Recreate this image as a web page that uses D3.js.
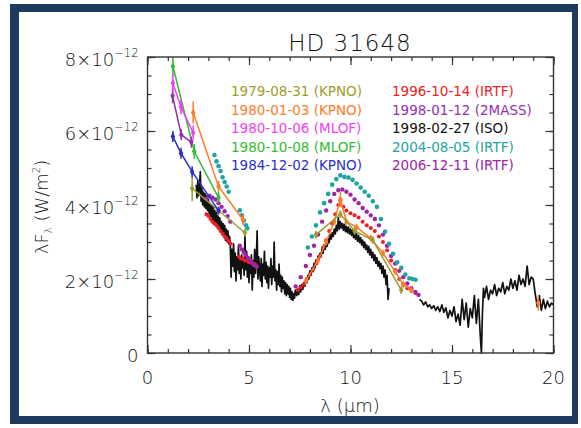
<!DOCTYPE html>
<html>
<head>
<meta charset="utf-8">
<script src="https://d3js.org/d3.v7.min.js"></script>
<style>
    body { margin: 0; background: #fff; }
    svg text { font-family: "DejaVu Sans", sans-serif; font-weight: 200; fill: #111; }
    svg text.leg { font-weight: normal; }
</style>
</head>
<body>
<div id="content"></div>
<script>
// legend
var legendDates = ['1979-08-31', '1980-01-03', '1980-10-06', '1980-10-08', '1984-12-02',
    '1996-10-14', '1998-01-12', '1998-02-27', '2004-08-05', '2006-12-11'];
var legendSites = ['(KPNO)', '(KPNO)', '(MLOF)', '(MLOF)', '(KPNO)',
    '(IRTF)', '(2MASS)', '(ISO)', '(IRTF)', '(IRTF)'];
var legendColors = ['#9d9d2e', '#ff7b2a', '#ee3ff0', '#33bb33', '#2a2fd0',
    '#ee1c24', '#9630b0', '#111111', '#1fa3a3', '#a024a4'];

// ticks
var xTicks = [0, 5, 10, 15, 20];
var yTicks = [0, 2, 4, 6, 8];

// photometry, [lambda (um), flux (1e-12 W/m2), error]; null breaks the line
var kpno1979 = [[2.2, 4.45, 0.35], [3.5, 3.85, 0.1], [4.8, 3.25, 0.1], null,
    [8.3, 3.2, 0.1], [9.5, 3.75, 0.1], [10.2, 3.3, 0.1], [11.1, 3.05, 0.1], [12.5, 1.7, 0.1]];
var kpno1980 = [[2.25, 6.5, 0.3], [3.5, 4.5, 0.15], [4.7, 3.6, 0.15], null,
    [7.8, 1.95, 0], [8.4, 2.5, 0], [8.8, 3.0, 0], [9.2, 3.55, 0], [9.5, 4.15, 0.2], [9.8, 3.55, 0],
    [10.3, 3.4, 0], [11.0, 3.1, 0], [11.6, 2.7, 0], [12.2, 2.2, 0], [12.6, 1.85, 0], [13.0, 1.7, 0], null,
    [19.25, 1.35, 0.2]];
var mlof1006 = [[1.25, 7.3, 0.25], [1.65, 6.65, 0.2], [2.25, 5.95, 0.2]];
var mlof1008 = [[1.25, 7.75, 0.25], [2.3, 5.45, 0.2], [3.5, 4.2, 0.15]];
var kpno1984 = [[1.25, 5.85, 0.15], [1.65, 5.4, 0.15], [2.2, 4.9, 0.15], [3.5, 3.85, 0.1]];
var twomass1998 = [[1.235, 6.95, 0.2], [1.662, 5.9, 0.15], [2.159, 5.7, 0.15]];

// spectra drawn as dots
var irtf1996 = [[2.9, 3.75], [3.0, 3.7], [3.1, 3.62], [3.2, 3.55], [3.3, 3.5], [3.4, 3.45], [3.5, 3.38],
    [3.6, 3.3], [3.7, 3.22], [3.8, 3.15], [3.9, 3.1], [4.0, 3.02], [4.1, 2.95], [4.5, 2.6], [4.6, 2.55],
    [4.7, 2.55], [4.8, 2.5], [4.9, 2.5], [5.0, 2.45], [5.1, 2.45], [5.2, 2.42], [5.3, 2.4],
    [7.4, 1.7], [7.55, 1.78], [7.7, 1.85], [7.85, 2.0], [8.0, 2.12], [8.15, 2.25], [8.3, 2.42],
    [8.5, 2.62], [8.65, 2.85], [8.8, 3.05], [8.95, 3.3], [9.1, 3.5], [9.25, 3.75], [9.4, 4.0],
    [9.5, 4.12], [9.65, 3.95], [9.8, 3.85], [10.0, 3.78], [10.2, 3.72], [10.4, 3.66], [10.6, 3.55],
    [10.8, 3.45], [11.0, 3.38], [11.2, 3.3], [11.4, 3.15], [11.6, 3.0], [11.8, 2.78], [12.0, 2.5],
    [12.2, 2.25], [12.4, 2.0], [12.6, 1.85], [12.8, 1.75], [13.0, 1.68], [13.2, 1.62]];
var irtf2004 = [[3.3, 5.35], [3.4, 5.18], [3.5, 5.05], [3.6, 4.92], [3.7, 4.75], [3.8, 4.62], [3.9, 4.5],
    [4.0, 4.36], [4.55, 3.86], [4.65, 3.72], [4.75, 3.58], [4.85, 3.45], [4.92, 3.37],
    [7.9, 2.85], [8.1, 3.15], [8.3, 3.45], [8.5, 3.8], [8.7, 4.05], [8.9, 4.3], [9.1, 4.55],
    [9.3, 4.7], [9.5, 4.8], [9.7, 4.76], [9.9, 4.74], [10.1, 4.68], [10.3, 4.58], [10.5, 4.47],
    [10.7, 4.36], [10.9, 4.25], [11.1, 4.1], [11.3, 3.95], [11.5, 3.62], [11.7, 3.28], [11.9, 2.95],
    [12.1, 2.68], [12.3, 2.45], [12.5, 2.3], [12.7, 2.12], [12.9, 2.02], [13.05, 2.0], [13.2, 1.98]];
var irtf2006 = [[2.9, 4.18], [3.05, 4.25], [3.2, 4.2], [3.35, 4.15], [3.5, 4.05], [3.65, 3.95],
    [3.8, 3.83], [3.95, 3.7], [4.08, 3.55], [4.55, 2.9], [4.65, 2.8], [4.75, 2.72], [4.85, 2.64],
    [4.95, 2.57], [5.05, 2.5], [5.15, 2.43], [5.25, 2.38], [5.38, 2.33],
    [7.3, 1.8], [7.55, 2.05], [7.8, 2.35], [8.0, 2.65], [8.2, 2.9], [8.4, 3.2], [8.6, 3.55],
    [8.8, 3.85], [9.0, 4.1], [9.2, 4.3], [9.4, 4.4], [9.6, 4.42], [9.8, 4.36], [10.0, 4.28],
    [10.2, 4.15], [10.4, 4.05], [10.6, 3.92], [10.8, 3.82], [11.0, 3.72], [11.2, 3.62], [11.4, 3.45],
    [11.6, 3.2], [11.8, 2.9], [12.0, 2.62], [12.2, 2.42], [12.4, 2.22], [12.6, 2.05], [12.8, 1.88],
    [13.0, 1.75], [13.2, 1.65], [13.35, 1.57]];

// ISO spectrum
var iso1998 = [[2.40, 4.55], [2.44, 4.20], [2.48, 4.65], [2.52, 4.25], [2.56, 4.50], [2.60, 4.90],
    [2.64, 4.10], [2.68, 4.45], [2.72, 4.00], [2.76, 4.35], [2.80, 3.95], [2.84, 4.30], [2.88, 3.90],
    [2.92, 4.25], [2.96, 3.85], [3.00, 4.15], [3.04, 3.75], [3.08, 4.05], [3.12, 3.70], [3.16, 4.00],
    [3.20, 3.60], [3.24, 3.95], [3.28, 3.55], [3.32, 3.85], [3.36, 3.50], [3.40, 3.80], [3.44, 3.40],
    [3.48, 3.70], [3.52, 3.35], [3.56, 3.65], [3.60, 3.30], [3.64, 3.55], [3.68, 3.20], [3.72, 3.50],
    [3.76, 3.15], [3.80, 3.45], [3.84, 3.05], [3.88, 3.35], [3.92, 3.00], [3.96, 3.30], [4.00, 2.95],
    [4.04, 3.15], [4.08, 2.90],
    [4.12, 2.05], [4.16, 2.80], [4.20, 2.35], [4.24, 2.95], [4.28, 2.20], [4.32, 2.70], [4.36, 1.95],
    [4.40, 2.60], [4.44, 2.25], [4.48, 2.90], [4.52, 2.15], [4.56, 2.55], [4.60, 2.00], [4.64, 2.65],
    [4.68, 2.30], [4.72, 2.50], [4.76, 2.10], [4.80, 3.20], [4.84, 2.25], [4.88, 2.75], [4.92, 2.05],
    [4.96, 2.60], [5.00, 1.90], [5.04, 2.45], [5.08, 2.15], [5.12, 2.65], [5.16, 1.70], [5.20, 2.50],
    [5.24, 2.05], [5.28, 2.80], [5.32, 2.15], [5.36, 2.50], [5.40, 3.30], [5.44, 2.00], [5.48, 2.60],
    [5.52, 2.25], [5.56, 1.95], [5.60, 2.55], [5.64, 1.80], [5.68, 2.40], [5.72, 2.10], [5.76, 2.75],
    [5.80, 2.00], [5.84, 2.45], [5.88, 1.90], [5.92, 2.35], [5.96, 1.75], [6.00, 2.30], [6.04, 2.05],
    [6.08, 2.55], [6.12, 1.85], [6.16, 2.35], [6.20, 2.05], [6.24, 3.00], [6.28, 1.95], [6.32, 2.25],
    [6.36, 1.70], [6.40, 2.20], [6.44, 1.85], [6.48, 2.40], [6.52, 1.80], [6.56, 2.10], [6.60, 1.65],
    [6.64, 2.05], [6.68, 1.75], [6.72, 1.95], [6.76, 1.60], [6.80, 1.90], [6.84, 1.55], [6.88, 1.85],
    [6.92, 1.60], [6.96, 1.80], [7.00, 1.50], [7.04, 1.75], [7.08, 1.45], [7.12, 1.65], [7.16, 1.42],
    [7.20, 1.60], [7.24, 1.48], [7.28, 1.70],
    [7.35, 1.55], [7.40, 1.72], [7.45, 1.58], [7.50, 1.82], [7.55, 1.65], [7.60, 1.85], [7.65, 1.72],
    [7.70, 1.90], [7.75, 1.80], [7.80, 2.02], [7.85, 1.90], [7.90, 2.10], [7.95, 2.00], [8.00, 2.22],
    [8.05, 2.10], [8.10, 2.30], [8.15, 2.20], [8.20, 2.42], [8.25, 2.30], [8.30, 2.52], [8.35, 2.40],
    [8.40, 2.62], [8.45, 2.50], [8.50, 2.70], [8.55, 2.60], [8.60, 2.82], [8.65, 2.70], [8.70, 2.92],
    [8.75, 2.80], [8.80, 3.00], [8.85, 2.88], [8.90, 3.10], [8.95, 2.98], [9.00, 3.20], [9.05, 3.08],
    [9.10, 3.25], [9.15, 3.15], [9.20, 3.35], [9.25, 3.22], [9.30, 3.45], [9.35, 3.30], [9.40, 3.65],
    [9.45, 3.35], [9.50, 3.55], [9.55, 3.38], [9.60, 3.50], [9.65, 3.32], [9.70, 3.48], [9.75, 3.28],
    [9.80, 3.42], [9.85, 3.25], [9.90, 3.40], [9.95, 3.22], [10.00, 3.35], [10.05, 3.18], [10.10, 3.32],
    [10.15, 3.12], [10.20, 3.28], [10.25, 3.08], [10.30, 3.22], [10.35, 3.02], [10.40, 3.18],
    [10.45, 2.98], [10.50, 3.12], [10.55, 2.92], [10.60, 3.05], [10.65, 2.85], [10.70, 3.00],
    [10.75, 2.80], [10.80, 2.92], [10.85, 2.72], [10.90, 2.88], [10.95, 2.65], [11.00, 2.80],
    [11.05, 2.58], [11.10, 2.72], [11.15, 2.50], [11.20, 2.65], [11.25, 2.42], [11.30, 2.58],
    [11.35, 2.35], [11.40, 2.48], [11.45, 2.28], [11.50, 2.42], [11.55, 2.15], [11.60, 2.35],
    [11.65, 2.05], [11.70, 2.25], [11.75, 1.85], [11.80, 2.10], [11.85, 1.45], [11.90, 1.75], null,
    [13.40, 1.45], [13.50, 1.40], [13.60, 1.30], [13.70, 1.38], [13.80, 1.25], [13.90, 1.30], [14.00, 1.20],
    [14.10, 1.28], [14.20, 1.15], [14.30, 1.25], [14.40, 1.12], [14.50, 1.30], [14.60, 1.10],
    [14.70, 1.22], [14.80, 0.95], [14.90, 1.15], [15.00, 1.00], [15.10, 1.25], [15.20, 0.85],
    [15.30, 1.05], [15.40, 0.75], [15.50, 1.45], [15.60, 0.90], [15.70, 1.35], [15.80, 0.70],
    [15.90, 1.20], [16.00, 0.95], [16.10, 1.55], [16.20, 0.80], [16.30, 1.45], [16.40, 0.40],
    [16.45, 0.00], [16.50, 1.10], [16.55, 1.75], [16.60, 1.50], [16.70, 1.80], [16.80, 1.45],
    [16.90, 1.70], [17.00, 1.60], [17.10, 1.85], [17.20, 1.55], [17.30, 1.75], [17.40, 1.65],
    [17.50, 1.90], [17.60, 1.60], [17.70, 1.80], [17.80, 1.70], [17.90, 2.00], [18.00, 1.75],
    [18.10, 1.95], [18.20, 1.70], [18.30, 2.10], [18.40, 1.85], [18.50, 2.00], [18.60, 1.80],
    [18.70, 2.35], [18.80, 1.85], [18.90, 2.05], [19.00, 2.00], [19.10, 1.60], [19.20, 1.25],
    [19.30, 1.55], [19.40, 1.15], [19.50, 1.45], [19.60, 1.20], [19.70, 1.40], [19.80, 1.25],
    [19.90, 1.35], [20.00, 1.30]];

(() => {
    var W = 581, H = 428;
    var margin = { top: 57, right: 27.5, bottom: 75, left: 147.5 };
    var width = W - margin.left - margin.right;
    var height = H - margin.top - margin.bottom;

    var svg = d3.select('#content').append('svg')
        .attr('width', W)
        .attr('height', H);

    // navy frame
    svg.append('rect').attr('x', 10).attr('y', 4).attr('width', 568).attr('height', 420).attr('fill', '#1d3a5f');
    svg.append('rect').attr('x', 19).attr('y', 12).attr('width', 553).attr('height', 404).attr('fill', '#fff');

    var x = d3.scaleLinear().domain([0, 20]).range([margin.left, margin.left + width]);
    var y = d3.scaleLinear().domain([0, 8]).range([margin.top + height, margin.top]);

    var plot = svg.append('g');

    var line = d3.line()
        .defined(function (d) { return d; })
        .x(function (d) { return x(d[0]); })
        .y(function (d) { return y(d[1]); });

    // ISO spectrum
    plot.append('path')
        .datum(iso1998)
        .attr('fill', 'none')
        .attr('stroke', legendColors[7])
        .attr('stroke-width', 1.7)
        .attr('stroke-linejoin', 'round')
        .attr('d', line);

    // dotted spectra
    function dots(data, color, r) {
        plot.append('g').selectAll('circle')
            .data(data)
            .enter().append('circle')
            .attr('cx', function (d) { return x(d[0]); })
            .attr('cy', function (d) { return y(d[1]); })
            .attr('r', r)
            .attr('fill', color);
    }
    dots(irtf1996, legendColors[5], 2);
    dots(irtf2006, legendColors[9], 2.2);
    dots(irtf2004, legendColors[8], 2.3);

    // photometry with lines and error bars
    function photometry(data, color) {
        var g = plot.append('g');
        g.append('path')
            .datum(data)
            .attr('fill', 'none')
            .attr('stroke', color)
            .attr('stroke-width', 1.5)
            .attr('d', line);
        var pts = data.filter(function (d) { return d; });
        g.selectAll('line.err')
            .data(pts.filter(function (d) { return d[2] > 0; }))
            .enter().append('line')
            .attr('class', 'err')
            .attr('x1', function (d) { return x(d[0]); })
            .attr('x2', function (d) { return x(d[0]); })
            .attr('y1', function (d) { return y(d[1] - d[2]); })
            .attr('y2', function (d) { return y(d[1] + d[2]); })
            .attr('stroke', color)
            .attr('stroke-width', 1.5);
        g.selectAll('path.pt')
            .data(pts)
            .enter().append('path')
            .attr('class', 'pt')
            .attr('transform', function (d) { return 'translate(' + x(d[0]) + ',' + y(d[1]) + ')'; })
            .attr('d', d3.symbol(d3.symbolDiamond).size(18))
            .attr('fill', color);
    }
    photometry(kpno1980, legendColors[1]);
    photometry(kpno1979, legendColors[0]);
    photometry(mlof1008, legendColors[3]);
    photometry(kpno1984, legendColors[4]);
    photometry(twomass1998, legendColors[6]);
    photometry(mlof1006, legendColors[2]);

    // axes, ticks pointing inward
    var minorX = d3.range(0, 21, 1), minorY = d3.range(0, 8.01, 0.5);
    function ticks(axis, transform, values, size) {
        var g = svg.append('g')
            .attr('transform', transform)
            .call(axis.tickValues(values).tickSize(-size).tickFormat(''));
        g.select('.domain').remove();
        g.selectAll('line').attr('stroke', '#333').attr('stroke-width', 1.2);
    }
    var y0 = margin.top + height, x1 = margin.left + width;
    ticks(d3.axisBottom(x), 'translate(0,' + y0 + ')', minorX, 4);
    ticks(d3.axisBottom(x), 'translate(0,' + y0 + ')', xTicks, 8);
    ticks(d3.axisTop(x), 'translate(0,' + margin.top + ')', minorX, 4);
    ticks(d3.axisTop(x), 'translate(0,' + margin.top + ')', xTicks, 8);
    ticks(d3.axisLeft(y), 'translate(' + margin.left + ',0)', minorY, 4);
    ticks(d3.axisLeft(y), 'translate(' + margin.left + ',0)', yTicks, 8);
    ticks(d3.axisRight(y), 'translate(' + x1 + ',0)', minorY, 4);
    ticks(d3.axisRight(y), 'translate(' + x1 + ',0)', yTicks, 8);

    svg.append('rect')
        .attr('x', margin.left).attr('y', margin.top)
        .attr('width', width).attr('height', height)
        .attr('fill', 'none').attr('stroke', '#333').attr('stroke-width', 1.4);

    // tick labels
    svg.selectAll('text.xt')
        .data(xTicks)
        .enter().append('text')
        .attr('class', 'xt')
        .attr('x', function (d) { return x(d); })
        .attr('y', y0 + 31)
        .attr('text-anchor', 'middle')
        .style('font-size', '18px')
        .text(function (d) { return d; });

    var yt = svg.selectAll('text.yt')
        .data(yTicks)
        .enter().append('text')
        .attr('class', 'yt')
        .attr('x', margin.left - 9)
        .attr('y', function (d) { return y(d) + 9; })
        .attr('text-anchor', 'end')
        .style('font-size', '18px');
    yt.filter(function (d) { return d === 0; }).text('0');
    yt.filter(function (d) { return d !== 0; }).each(function (d) {
        var t = d3.select(this);
        t.append('tspan').text(d + '\u00d710');
        t.append('tspan').attr('dy', -9).style('font-size', '11.5px').text('\u2212' + '12');
    });

    // title and axis labels
    svg.append('text')
        .attr('x', 350).attr('y', 51)
        .attr('text-anchor', 'middle')
        .style('font-size', '23px')
        .style('letter-spacing', '1px')
        .text('HD 31648');

    svg.append('text')
        .attr('x', 350).attr('y', 412)
        .attr('text-anchor', 'middle')
        .style('font-size', '18px')
        .text('\u03bb (\u03bcm)');

    var yl = svg.append('text')
        .attr('transform', 'translate(48,207) rotate(-90)')
        .attr('text-anchor', 'middle')
        .style('font-size', '18px');
    yl.append('tspan').text('\u03bbF');
    yl.append('tspan').attr('dy', 4).style('font-size', '10px').text('\u03bb');
    yl.append('tspan').attr('dy', -4).text(' (W/m');
    yl.append('tspan').attr('dy', -8).style('font-size', '10px').text('2');
    yl.append('tspan').attr('dy', 8).text(')');

    // legend
    var rowY = [96, 114.5, 133, 151.5, 170];
    svg.selectAll('text.leg')
        .data(legendDates)
        .enter().append('text')
        .attr('class', 'leg')
        .attr('x', function (d, i) { return i < 5 ? 231 : 392; })
        .attr('y', function (d, i) { return rowY[i % 5]; })
        .style('font-size', '13.5px')
        .style('fill', function (d, i) { return legendColors[i]; })
        .text(function (d, i) { return d + ' ' + legendSites[i]; });
})();
</script>
</body>
</html>
